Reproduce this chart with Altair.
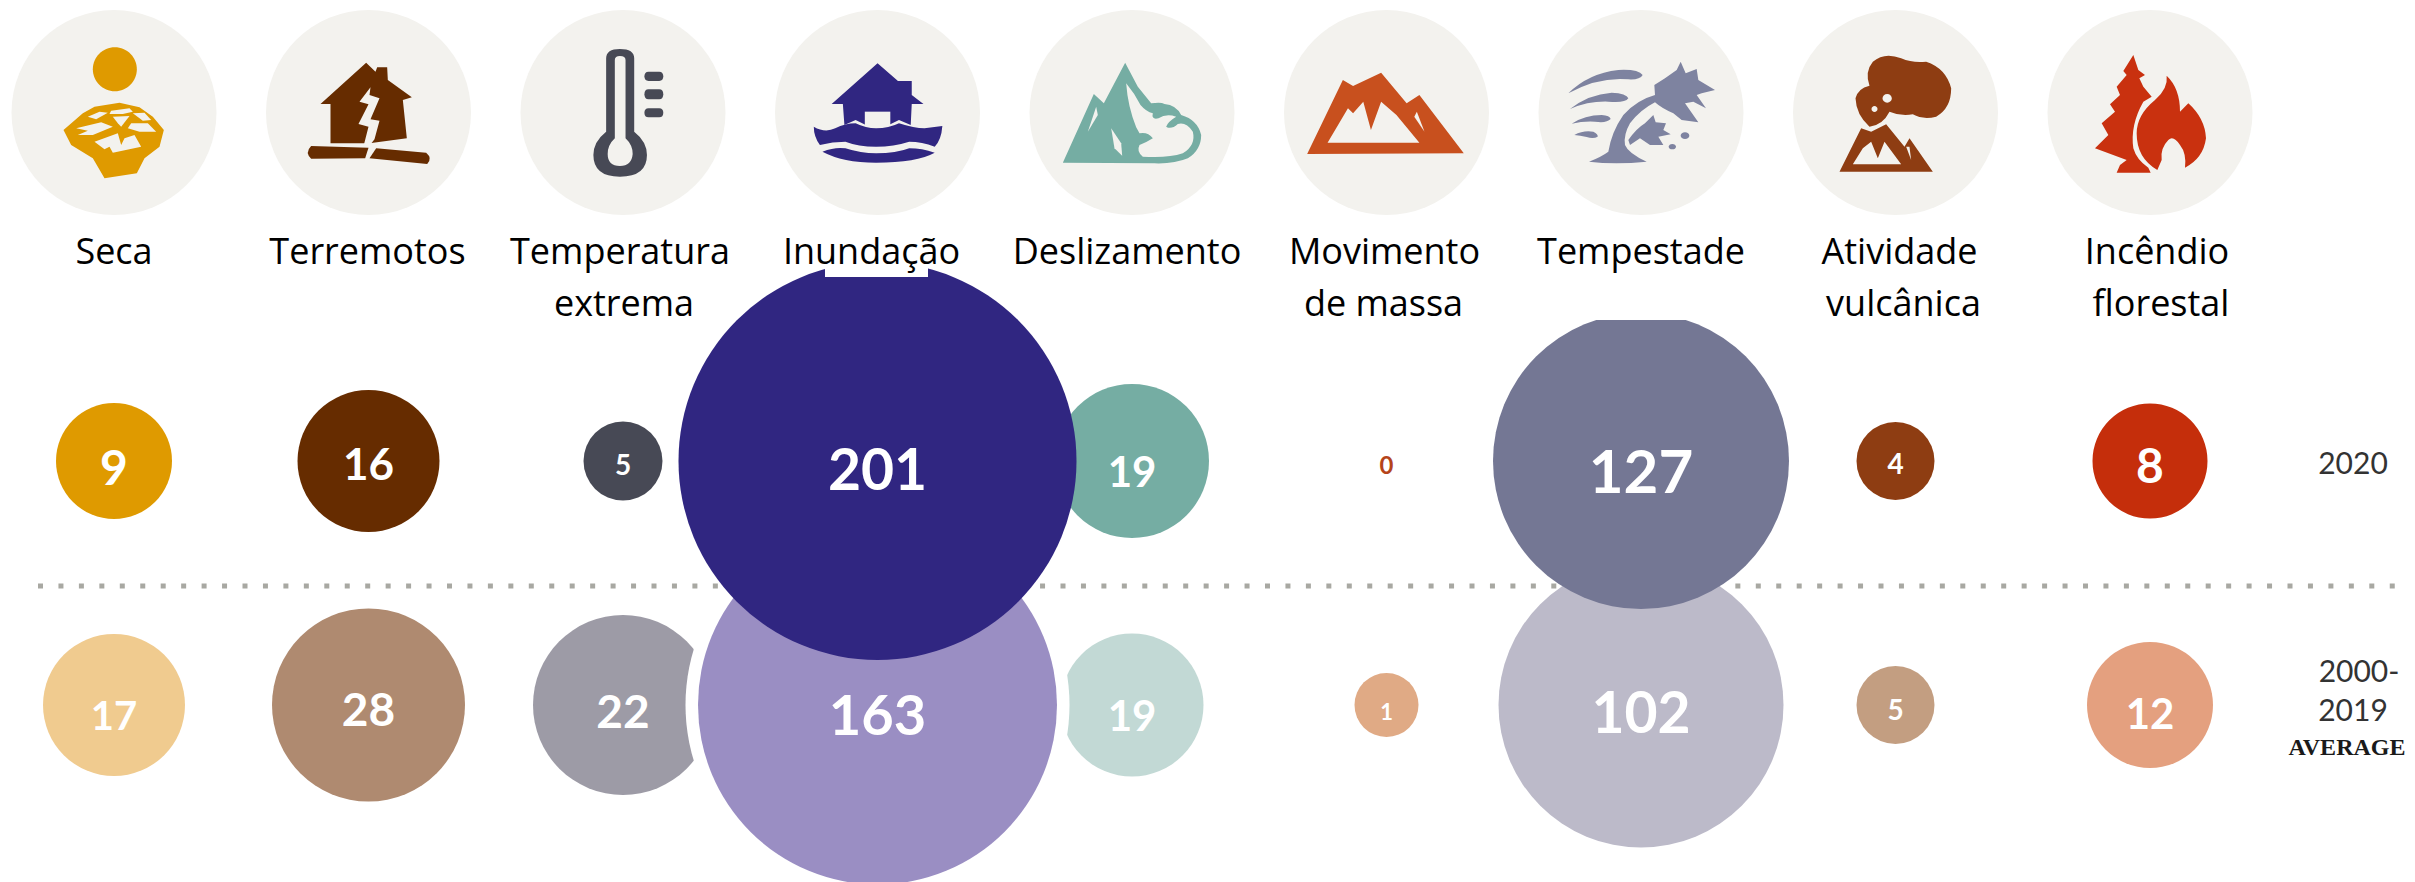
import re
import altair as alt
import pandas as pd

# ---- values ----
categories = ["Seca", "Terremotos", "Temperatura extrema", "Inundação", "Deslizamento",
              "Movimento de massa", "Tempestade", "Atividade vulcânica", "Incêndio florestal"]
values_2020 = [9, 16, 5, 201, 19, 0, 127, 4, 8]
values_avg = [17, 28, 22, 163, 19, 1, 102, 5, 12]
periods = ["2020", "2000-2019"]

# ---- styles ----
col_2020 = ["#DF9A00", "#662C00", "#474955", "#302681", "#75ADA3", "#FFFFFF", "#747794", "#8E3D12", "#C52E0B"]
col_avg = ["#F0CB8F", "#AF8A70", "#9D9BA6", "#9A8EC3", "#C2D9D5", "#E0AA85", "#BCBAC9", "#C39E81", "#E4A07F"]
diam_2020 = [116, 142, 79, 398, 154, 0, 296, 78, 115]
diam_avg = [142, 193, 180, 359, 143, 64, 285, 78, 126]
font_2020 = [48, 44, 28, 57, 42, 24, 60, 28, 48]
font_avg = [40, 46, 46, 56, 42, 22, 57, 28, 42]
dy_2020 = [10, 6, 6, 12, 13, 6, 14, 5, 8]
dy_avg = [13, 7, 9, 13, 13, 8, 11, 7, 11]
DISC = "#F3F2EE"
X_RANGE = [106, 2142]
Y_RANGE = [453, 697]

x_scale = alt.Scale(type="point", domain=categories, range=X_RANGE, padding=0, round=False)
y_scale = alt.Scale(type="point", domain=periods, range=Y_RANGE, padding=0, round=False)


def zoom_path(d, sx, ox, oy, cx, sy=3.0, cy=112.5):
    """Glyph outline noted in crop coordinates -> Vega unit symbol path (-1..1)."""
    nums = iter(range(10 ** 6))

    def conv(m):
        i = next(nums)
        v = float(m.group())
        if i % 2 == 0:
            return f"{((ox + v / sx) - cx) / 102.5:.4f}"
        return f"{((oy + v / sy) - cy) / 102.5:.4f}"

    return re.sub(r"-?\d+\.?\d*", conv, d)


def oval(cx, cy, rx, ry):
    k = 0.5523
    return (f"M{cx - rx} {cy} C{cx - rx} {cy - k * ry} {cx - k * rx} {cy - ry} {cx} {cy - ry} "
            f"C{cx + k * rx} {cy - ry} {cx + rx} {cy - k * ry} {cx + rx} {cy} "
            f"C{cx + rx} {cy + k * ry} {cx + k * rx} {cy + ry} {cx} {cy + ry} "
            f"C{cx - k * rx} {cy + ry} {cx - rx} {cy + k * ry} {cx - rx} {cy} Z")


def pill(x0, y0, x1, y1):
    m = (y0 + y1) / 2
    return (f"M{x0 + 8} {y0} L{x1 - 8} {y0} Q{x1} {y0} {x1} {m} Q{x1} {y1} {x1 - 8} {y1} "
            f"L{x0 + 8} {y1} Q{x0} {y1} {x0} {m} Q{x0} {y0} {x0 + 8} {y0} Z")


glyphs = {
    "Seca": (3, 50, 90, 114.5, "#DF9A00", [
        (oval(196, -62, 66, 66), 1),
        ("M42 120 L100 70 L135 50 L210 38 L270 52 L310 80 L343 120 L330 170 L285 205 L262 250 L165 265 L130 205 L65 165 Z", 1),
        ("M115 80 L150 65 L175 68 L140 88 Z", 0),
        ("M185 62 L240 55 L250 65 L220 72 L180 72 Z", 0),
        ("M250 70 L285 68 L305 90 L280 92 Z", 0),
        ("M80 115 L155 97 L190 110 L130 135 L85 135 L115 122 Z", 0),
        ("M190 80 L240 78 L215 110 L205 100 Z", 0),
        ("M245 100 L295 100 L320 125 L270 125 L235 115 Z", 0),
        ("M135 155 L205 130 L215 165 L225 145 L255 135 L275 170 L190 188 L180 170 L165 178 Z", 0),
    ]),
    "Terremotos": (3, 295, 50, 369, "#662C00", [
        ("M215 38 L243 65 L248 52 L278 52 L280 90 L352 142 L325 150 L337 265 L225 280 L108 280 L108 162 L78 162 Z", 1),
        ("M228 112 L195 155 L222 163 L192 222 L222 230 L208 285 L215 300 L240 268 L255 212 L228 208 L255 145 L225 135 Z", 0),
        ("M50 288 L222 293 L212 325 L50 326 Q30 308 50 288 Z", 1),
        ("M245 295 L395 308 Q415 325 398 342 L225 325 Z", 1),
    ]),
    "Temperatura extrema": (1.96, 0, 0, 624, "#474955", [
        ("M1190 175 Q1190 147 1217 147 Q1245 147 1245 175 L1245 395 Q1270 425 1270 465 Q1270 530 1217 530 "
         "Q1165 530 1165 465 Q1165 425 1190 395 Z", 1),
        ("M1207 180 Q1207 168 1217 168 Q1228 168 1228 180 L1228 415 Q1242 435 1242 462 Q1240 498 1217 498 "
         "Q1193 498 1193 462 Q1193 435 1207 415 Z", 0),
        (pill(1265, 215, 1302, 243), 1),
        (pill(1265, 268, 1302, 298), 1),
        (pill(1265, 325, 1302, 352), 1),
    ]),
    "Inundação": (1.96, 800, 0, 878, "#302681", [
        ("M153 190 L193 243 L220 243 L220 285 L243 312 L220 312 L218 375 L195 360 L175 375 L130 375 L110 360 "
         "L88 375 L85 312 L63 312 Z", 1),
        ("M128 335 L178 335 L178 375 L128 375 Z", 0),
        ("M28 380 Q50 400 70 385 Q90 370 110 370 Q130 385 150 385 Q175 385 195 370 Q225 385 245 385 L280 378 "
         "Q278 420 265 440 Q240 425 215 425 Q185 440 150 440 Q115 440 90 425 Q65 425 40 435 Q28 410 28 380 Z", 1),
        ("M45 455 Q70 440 90 445 Q120 460 150 460 Q190 460 215 445 Q240 445 265 458 Q230 488 150 488 Q85 488 45 455 Z", 1),
    ]),
    "Deslizamento": (3, 1055, 50, 1132.5, "#75ADA3", [
        ("M212 38 L250 110 L290 160 Q320 155 330 162 Q365 165 380 195 Q430 210 440 255 Q440 300 400 325 "
         "Q360 342 300 340 L25 338 L118 132 L148 160 Z", 1),
        ("M125 170 L100 245 L130 195 Z", 0),
        ("M215 100 Q240 130 258 165 Q275 185 295 190 Q290 210 312 205 Q335 190 365 200 Q340 215 335 230 "
         "Q350 240 370 222 Q395 215 415 245 Q425 285 385 310 Q340 325 265 320 Q245 305 255 285 Q280 275 295 265 "
         "Q280 245 255 250 L245 232 Q220 170 215 100 Z", 0),
        ("M170 235 L200 280 L203 317 L180 295 Z", 0),
    ]),
    "Movimento de massa": (1.96, 800, 0, 1387, "#C8501E", [
        ("M995 462 L1065 240 L1085 258 L1140 218 L1190 310 L1215 285 L1302 460 Z", 1),
        ("M1035 428 L1075 325 L1085 340 L1105 305 L1120 390 L1140 305 L1170 345 L1215 428 Z", 0),
        ("M1205 350 L1225 395 L1210 335 Z", 0),
    ]),
    "Tempestade": (3, 1565, 45, 1641, "#7E83A0", [
        ("M10 145 Q70 85 160 75 Q220 72 233 90 Q225 105 190 103 Q100 95 10 145 Z", 1),
        ("M15 192 Q70 148 140 143 Q185 145 190 160 Q180 175 130 170 Q70 168 15 192 Z", 1),
        ("M20 236 Q60 210 110 210 Q135 212 137 222 Q125 235 90 230 Q55 228 20 236 Z", 1),
        ("M28 270 Q55 255 85 260 Q100 268 98 275 Q85 282 65 276 Q45 272 28 270 Z", 1),
        ("M72 350 Q110 335 130 320 Q140 260 175 210 Q215 165 270 150 L268 120 L300 100 L335 75 L347 50 L362 85 "
         "L395 72 L400 105 L450 135 L410 145 L395 150 L423 190 L385 170 L360 175 L400 232 L350 225 L325 205 "
         "Q290 190 270 172 Q225 195 195 235 Q175 270 180 300 Q190 325 245 350 Q150 360 72 350 Z", 1),
        ("M190 285 Q215 250 240 235 L265 210 L272 232 L303 235 L295 255 L317 268 L280 275 L295 300 L255 300 "
         "L225 280 L195 300 Z", 1),
        (oval(360, 272, 13, 10), 1),
        (oval(322, 305, 11, 8), 1),
    ]),
    "Atividade vulcânica": (3, 1830, 45, 1896, "#8E3D12", [
        ("M130 50 Q165 20 215 40 Q250 55 290 50 Q350 70 365 130 Q365 190 320 215 Q280 225 250 208 Q215 215 180 200 "
         "Q160 240 120 245 Q80 210 78 160 Q85 130 120 122 Q105 80 130 50 Z", 1),
        (oval(173, 160, 14, 13), 0),
        (oval(135, 192, 9, 9), 0),
        ("M30 380 L95 250 L125 260 L170 238 L225 305 L240 280 L310 380 Z", 1),
        ("M70 358 L100 310 L125 290 L145 340 L165 290 L215 358 Z", 0),
        ("M230 305 L245 345 L240 305 Z", 0),
    ]),
    "Incêndio florestal": (3, 2080, 45, 2150, "#C9310F", [
        ("M160 30 L175 75 L195 90 L178 100 L190 125 L215 155 L190 170 Q150 240 160 310 Q170 345 205 368 L212 383 "
         "L110 383 L120 360 L140 345 L45 310 L85 270 L65 235 L105 200 L90 178 L120 150 L110 125 L140 90 L130 78 Z", 1),
        ("M260 92 Q300 130 300 200 L325 175 Q375 220 378 280 Q370 340 315 368 Q320 325 300 300 Q280 270 265 285 "
         "Q240 310 245 345 L232 375 Q170 340 170 265 Q170 210 225 165 Q265 130 260 92 Z", 1),
    ]),
}

bubbles = []
for i, c in enumerate(categories):
    bubbles.append(dict(cat=c, period="2020", value=values_2020[i], area=diam_2020[i] ** 2, dy=dy_2020[i],
                        fill=col_2020[i], fs=font_2020[i], tc="#B5441A" if values_2020[i] == 0 else "#FFFFFF"))
    bubbles.append(dict(cat=c, period="2000-2019", value=values_avg[i], area=diam_avg[i] ** 2, dy=dy_avg[i],
                        fill=col_avg[i], fs=font_avg[i], tc="#FFFFFF"))
bubbles = pd.DataFrame(bubbles)

icon_rows = []
for c, (sx, ox, oy, cx, fg, parts) in glyphs.items():
    for d, on in parts:
        icon_rows.append(dict(cat=c, path=zoom_path(d, sx, ox, oy, cx), col=fg if on else DISC))
icons = pd.DataFrame(icon_rows)

X = alt.X("cat:N", scale=x_scale, axis=None)
Y = alt.Y("period:N", scale=y_scale, axis=None)


def circles(df):
    return alt.Chart(df).mark_circle(opacity=1).encode(
        x=X, y=Y,
        size=alt.Size("area:Q", scale=None, legend=None),
        color=alt.Color("fill:N", scale=None, legend=None),
    )


# header discs and glyphs
discs = alt.Chart(pd.DataFrame({"cat": categories})).mark_circle(opacity=1, size=205 ** 2, color=DISC).encode(
    x=X, y=alt.value(104.5))
glyph_layer = alt.Chart(icons).mark_point(filled=True, opacity=1, size=205 ** 2).encode(
    x=X, y=alt.value(104.5),
    shape=alt.Shape("path:N", scale=None, legend=None),
    color=alt.Color("col:N", scale=None, legend=None),
)

# dotted separator
sep = alt.Chart(pd.DataFrame({"a": [0]})).mark_rule(
    color="#A8A8A2", strokeWidth=5, strokeDash=[5, 15.45]
).encode(x=alt.value(30), x2=alt.value(2399), y=alt.value(578))

big = ["Inundação", "Tempestade"]
avg_small = bubbles[(bubbles.period == "2000-2019") & (~bubbles.cat.isin(big))]
avg_big = bubbles[(bubbles.period == "2000-2019") & (bubbles.cat.isin(big))]
top_small = bubbles[(bubbles.period == "2020") & (~bubbles.cat.isin(big)) & (bubbles.area > 0)]
top_big = bubbles[(bubbles.period == "2020") & (bubbles.cat.isin(big))]

ring = alt.Chart(bubbles[(bubbles.period == "2000-2019") & (bubbles.cat == "Inundação")]).mark_circle(
    opacity=1, size=384 ** 2, color="#FFFFFF").encode(x=X, y=Y)

# white label backings that bite into the two large circles
mask_a = alt.Chart(pd.DataFrame({"a": [0]})).mark_rect(color="#FFFFFF").encode(
    x=alt.value(817), x2=alt.value(920), y=alt.value(240), y2=alt.value(269))
mask_b = alt.Chart(pd.DataFrame({"a": [0]})).mark_rect(color="#FFFFFF").encode(
    x=alt.value(1520), x2=alt.value(1750), y=alt.value(270), y2=alt.value(312))

number_layers = []
for dy, grp in bubbles.groupby("dy"):
    number_layers.append(
        alt.Chart(grp).mark_text(font="Lato", fontWeight="bold", baseline="middle", dy=int(dy)).encode(
            x=X, y=Y,
            text=alt.Text("value:Q"),
            size=alt.Size("fs:Q", scale=None, legend=None),
            color=alt.Color("tc:N", scale=None, legend=None),
        )
    )

# category captions: (text, category, horizontal nudge, line)
captions = [
    ("Seca", 0, 0, 0), ("Terremotos", 1, -1, 0), ("Temperatura", 2, -3, 0), ("extrema", 2, 1, 1),
    ("Inundação", 3, -6, 0), ("Deslizamento", 4, -5, 0), ("Movimento", 5, -2, 0), ("de massa", 5, -3, 1),
    ("Tempestade", 6, 0, 0), ("Atividade", 7, 4, 0), ("vulcânica", 7, 8, 1), ("Incêndio", 8, 7, 0),
    ("florestal", 8, 11, 1),
]
cap_layers = []
for text, idx, nudge, line in captions:
    cap_layers.append(
        alt.Chart(pd.DataFrame({"cat": [categories[idx]], "t": [text]})).mark_text(
            font="Open Sans", fontSize=36, color="#000000", baseline="alphabetic", dx=nudge
        ).encode(x=X, y=alt.value(256 + 52 * line), text="t:N")
    )

# row labels on the right
side = [("2020", 466, 2345, "Lato", 30, "normal", "#333333"),
        ("2000-", 674, 2351, "Lato", 30, "normal", "#333333"),
        ("2019", 713, 2345, "Lato", 30, "normal", "#333333"),
        ("AVERAGE", 747, 2339, "Liberation Serif", 24, "bold", "#1A1A1A")]
side_layers = []
for t, yy, xx, fnt, fs, w, c in side:
    side_layers.append(
        alt.Chart(pd.DataFrame({"t": [t]})).mark_text(
            font=fnt, fontSize=fs, fontWeight=w, color=c, baseline="alphabetic", align="center"
        ).encode(x=alt.value(xx), y=alt.value(yy), text="t:N")
    )

chart = alt.layer(
    sep, discs, glyph_layer,
    circles(avg_small), ring, circles(avg_big), circles(top_small), circles(top_big),
    mask_a, mask_b, *number_layers, *cap_layers, *side_layers
).properties(
    width=2399, height=874, padding=0, background="#FFFFFF",
    autosize=alt.AutoSizeParams(type="none"),
).configure_view(strokeWidth=0, stroke="transparent")

chart.save("out.html", embed_options={"renderer": "svg", "actions": False})
